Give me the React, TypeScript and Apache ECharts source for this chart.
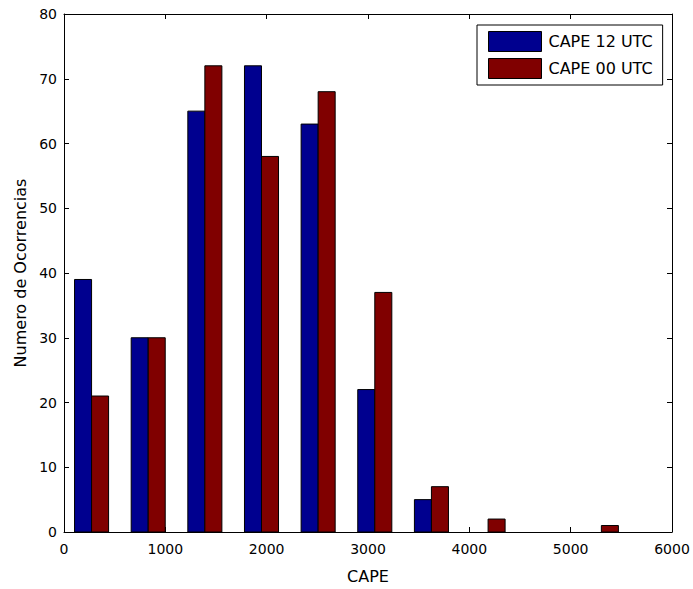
import React, { useEffect, useRef } from "react";
import * as echarts from "echarts";

const binCenters = [272, 831, 1390, 1949, 2508, 3067, 3626, 4185, 4744, 5303];
const cape12 = [39, 30, 65, 72, 63, 22, 5, 0, 0, 0];
const cape00 = [21, 30, 72, 58, 68, 37, 7, 2, 0, 1];
const seriesNames = ["CAPE 12 UTC", "CAPE 00 UTC"];
const seriesColors = ["#00008F", "#800000"];
const barWidthUnits = 168;

const FONT = "DejaVu Sans";

export default function App() {
  const ref = useRef<HTMLDivElement>(null);
  useEffect(() => {
    if (!ref.current) return;
    const chart = echarts.init(ref.current, null, { renderer: "svg" });
    const makeRender = (side: number) => (params: any, api: any) => {
      const x = api.value(0);
      const y = api.value(1);
      if (!y) return null;
      const x0 = side < 0 ? x - barWidthUnits : x;
      const x1 = side < 0 ? x : x + barWidthUnits;
      const p0 = api.coord([x0, y]);
      const p1 = api.coord([x1, 0]);
      return {
        type: "rect",
        shape: { x: p0[0], y: p0[1], width: p1[0] - p0[0], height: p1[1] - p0[1] },
        style: { fill: api.visual("color"), stroke: "#000", lineWidth: 1 },
      };
    };
    const axisCommon = {
      axisLine: { show: true, onZero: false, lineStyle: { color: "#000", width: 1 } },
      axisTick: { show: true, inside: true, length: 5, lineStyle: { color: "#000" } },
      splitLine: { show: false },
    };
    const plain = (v: number) => String(v);
    chart.setOption({
      animation: false,
      backgroundColor: "#fff",
      textStyle: { fontFamily: FONT },
      grid: { left: 64, right: 21, top: 14, bottom: 56, containLabel: false },
      legend: {
        orient: "vertical",
        left: 477,
        top: 25,
        padding: [6, 10, 6, 11],
        itemGap: 6,
        itemWidth: 53,
        itemHeight: 20,
        itemStyle: { borderColor: "#000", borderWidth: 1 },
        borderColor: "#000",
        borderWidth: 1,
        backgroundColor: "#fff",
        textStyle: { fontFamily: FONT, fontSize: 16, color: "#000", padding: [0, 0, 0, 2] },
        data: seriesNames.map((n, i) => ({ name: n, icon: "rect", itemStyle: { color: seriesColors[i], borderColor: "#000", borderWidth: 1 } })),
      },
      xAxis: [
        {
          type: "value",
          min: 0,
          max: 6000,
          interval: 1000,
          position: "bottom",
          name: "CAPE",
          nameLocation: "middle",
          nameGap: 36,
          nameTextStyle: { fontFamily: FONT, fontSize: 16, color: "#000" },
          axisLabel: { fontFamily: FONT, fontSize: 14, color: "#000", margin: 10, formatter: plain },
          ...axisCommon,
        },
        {
          type: "value",
          min: 0,
          max: 6000,
          interval: 1000,
          position: "top",
          axisLabel: { show: false },
          ...axisCommon,
        },
      ],
      yAxis: [
        {
          type: "value",
          min: 0,
          max: 80,
          interval: 10,
          position: "left",
          name: "Numero de Ocorrencias",
          nameLocation: "middle",
          nameGap: 36,
          nameTextStyle: { fontFamily: FONT, fontSize: 16, color: "#000" },
          axisLabel: { fontFamily: FONT, fontSize: 14, color: "#000", margin: 7, formatter: plain },
          ...axisCommon,
        },
        {
          type: "value",
          min: 0,
          max: 80,
          interval: 10,
          position: "right",
          axisLabel: { show: false },
          ...axisCommon,
        },
      ],
      series: [
        {
          type: "custom",
          name: seriesNames[0],
          xAxisIndex: 0,
          yAxisIndex: 0,
          clip: true,
          itemStyle: { color: seriesColors[0] },
          renderItem: makeRender(-1),
          data: binCenters.map((c, i) => [c, cape12[i]]),
        },
        {
          type: "custom",
          name: seriesNames[1],
          xAxisIndex: 0,
          yAxisIndex: 0,
          clip: true,
          itemStyle: { color: seriesColors[1] },
          renderItem: makeRender(1),
          data: binCenters.map((c, i) => [c, cape00[i]]),
        },
      ],
    });
    return () => chart.dispose();
  }, []);
  return (
    <div
      ref={ref}
      style={{ position: "absolute", left: 0, top: 0, width: 693, height: 589, background: "#fff" }}
    />
  );
}
